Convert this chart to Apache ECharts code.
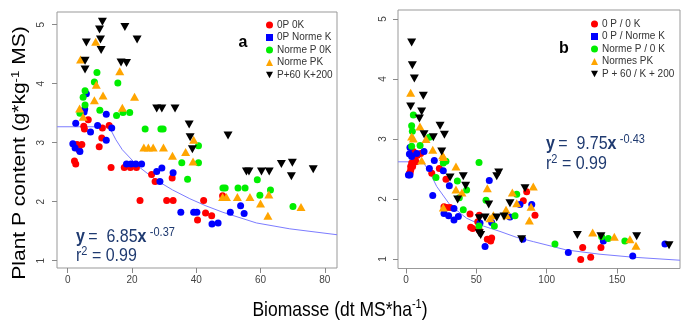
<!DOCTYPE html>
<html>
<head>
<meta charset="utf-8">
<script src="https://cdn.jsdelivr.net/npm/echarts@6/dist/echarts.min.js"></script>
<style>
html, body { margin: 0; padding: 0; background: #fff; }
#main { width: 686px; height: 327px; }
</style>
</head>
<body>
<div id="main"></div>
<script>
// tick labels
var ticksAx = [0, 20, 40, 60, 80];
var ticksBx = [0, 50, 100, 150];
var ticksY = [1, 2, 3, 4, 5];

// legend names
var namesA = ['0P 0K', '0P Norme K', 'Norme P 0K', 'Norme PK', 'P+60 K+200'];
var namesB = ['0 P / 0 K', '0 P / Norme K', 'Norme P / 0 K', 'Normes PK', 'P + 60 / K + 200'];

// panel a : [biomasse, P content]
var a0P0K = [[6.4,3.39],[5.0,3.28],[5.2,3.23],[10.8,3.25],[12.9,3.29],[10.6,3.08],[2.9,2.97],[4.4,2.97],[3.5,2.88],[9.8,2.93],[2.1,2.69],[2.5,2.64],[13.5,2.58],[17.6,2.58],[19.5,2.58],[21.4,2.58],[26.1,2.46],[27.2,2.34],[32.5,2.40],[22.5,2.02],[30.8,2.02],[32.8,2.02],[42.3,2.02],[40.4,1.69],[42.9,1.81],[44.8,1.76],[48.2,2.10]];
var a0PNK = [[5.8,3.83],[5.3,3.57],[5.1,3.52],[12.0,3.48],[2.5,3.33],[9.3,3.29],[13.7,3.25],[7.1,3.18],[12.0,3.04],[1.6,2.98],[2.3,2.91],[3.8,2.85],[18.3,2.64],[19.7,2.64],[21.2,2.64],[23.0,2.64],[29.3,2.57],[27.7,2.51],[28.7,2.34],[32.8,2.49],[35.2,1.82],[39.2,1.82],[40.2,1.82],[44.9,1.62],[46.8,1.64],[50.6,1.82],[53.8,1.93],[54.9,1.80]];
var aNP0K = [[9.1,4.19],[8.3,4.03],[15.6,4.01],[5.4,3.88],[4.8,3.77],[5.4,3.64],[10.0,3.55],[3.8,3.50],[15.2,3.46],[17.2,3.51],[19.3,3.51],[24.1,3.23],[29.0,3.23],[29.7,3.23],[35.5,2.66],[40.7,2.95],[40.7,2.66],[37.3,2.38],[48.3,2.23],[49.0,2.23],[53.0,2.23],[55.2,2.23],[59.0,2.37],[63.1,2.20],[59.8,2.11],[70.1,1.92]];
var aNPK = [[8.7,4.71],[4.0,4.41],[16.2,4.21],[8.9,3.98],[11.0,3.80],[8.3,3.72],[20.8,3.78],[3.7,3.58],[17.0,3.59],[4.8,3.44],[23.7,2.92],[25.1,2.92],[26.6,2.92],[29.8,2.92],[32.6,2.78],[36.7,2.84],[39.0,2.68],[39.2,3.05],[48.2,2.08],[49.4,2.08],[52.8,2.08],[56.7,2.08],[60.0,1.97],[62.6,2.12],[62.3,1.76],[72.6,1.91]];
var aP60K200 = [[10.8,5.05],[9.9,4.92],[17.8,4.96],[5.8,4.70],[10.2,4.75],[21.6,4.75],[10.4,4.57],[5.4,4.39],[16.6,4.36],[18.3,4.35],[5.4,4.24],[27.7,3.58],[29.3,3.58],[33.4,3.58],[37.8,3.31],[38.1,3.09],[38.8,2.89],[49.9,3.12],[55.6,2.51],[56.4,2.51],[60.3,2.51],[62.7,2.51],[66.5,2.64],[69.9,2.66],[69.6,2.43],[76.4,2.55]];
var aFit = [[-3.3,3.27],[12.9,3.27],[15,3.05],[17,2.88],[21.7,2.61],[27.4,2.37],[32.6,2.20],[38,2.05],[43,1.93],[48.3,1.82],[58.7,1.64],[69.1,1.54],[83.8,1.44]];

// panel b
var b0P0K = [[5.2,2.79],[3.3,2.54],[4.0,2.60],[2.8,2.43],[6.4,2.66],[7.1,2.62],[8.1,2.73],[4.7,2.54],[3.3,2.48],[2.4,2.43],[10.4,2.76],[18.3,2.43],[23.7,2.51],[28.4,2.33],[27.0,1.87],[28.9,1.86],[31.3,1.86],[45.5,1.75],[51.0,1.62],[46.0,1.53],[47.4,1.51],[57.8,1.33],[60.9,1.35],[60.2,1.30],[52.1,1.48],[52.1,1.73],[85.8,2.12],[83.4,1.97],[91.7,1.73],[125.6,1.19],[124.2,0.99],[131.3,1.03],[138.6,1.19]];
var b0PNK = [[2.8,2.86],[4.0,2.71],[2.8,2.40],[7.6,2.76],[2.4,2.75],[1.7,2.40],[12.8,2.79],[20.1,2.64],[16.6,2.51],[19.0,2.06],[26.5,2.47],[30.8,2.22],[34.1,1.84],[27.0,1.76],[30.3,1.72],[34.1,1.65],[37.2,1.71],[59.2,2.31],[52.6,1.60],[56.2,1.21],[60.9,1.61],[73.9,1.70],[89.4,1.91],[81.0,1.91],[83.0,1.33],[115.4,1.11],[140.3,1.30],[161.2,1.05],[184.1,1.25]];
var bNP0K = [[5.2,3.40],[4.0,3.22],[4.5,3.13],[4.0,2.88],[10.0,2.89],[16.6,3.03],[26.5,2.60],[28.4,2.63],[21.3,2.36],[36.5,2.30],[43.1,2.15],[51.9,2.61],[37.9,2.02],[40.7,1.82],[56.9,1.98],[62.8,1.55],[51.9,1.55],[77.5,1.72],[78.7,2.08],[105.9,1.25],[143.8,1.34],[155.6,1.30],[139.1,1.37]];
var bNPK = [[3.3,3.77],[4.0,3.04],[5.2,3.01],[9.9,3.21],[14.2,3.00],[11.1,2.64],[19.0,2.82],[26.1,2.73],[26.6,2.70],[35.5,2.54],[35.5,2.16],[39.8,2.11],[57.8,2.18],[26.5,1.86],[62.1,1.73],[71.6,1.73],[59.7,1.68],[71.1,1.82],[75.6,2.11],[87.7,1.64],[90.5,2.21],[78.7,1.93],[88.9,1.87],[132.7,1.44],[148.1,1.37],[159.2,1.33],[163.5,1.22]];
var bP60K200 = [[4.0,4.61],[4.5,4.23],[5.9,4.01],[3.3,3.54],[9.5,3.34],[12.3,3.72],[11.1,3.46],[24.2,3.22],[12.8,3.08],[19.4,3.03],[27.3,3.07],[25.4,2.79],[31.3,2.36],[40.7,2.38],[42.4,2.22],[36.7,1.99],[65.9,2.44],[64.5,2.38],[58.8,1.91],[52.1,1.68],[56.2,1.69],[52.1,1.43],[53.1,1.40],[64.5,1.69],[69.7,1.71],[73.9,1.93],[84.6,2.18],[82.2,1.33],[121.8,1.40],[138.6,1.38],[164.0,1.38],[187.0,1.23]];
var bFit = [[-5.7,2.62],[11.9,2.62],[16.6,2.46],[21.8,2.21],[31.3,1.90],[43.1,1.68],[55,1.55],[66.8,1.46],[78.7,1.36],[90.5,1.29],[114.2,1.15],[137.9,1.08],[161.6,1.03],[194.8,0.98]];

var ff = 'Liberation Sans, Arial, sans-serif';
var navy = '#1f3a70';
var colors = ['#ff0000', '#0000ff', '#00ee00', '#ffa500', '#000000'];
var symbols = ['circle', 'circle', 'circle', 'triangle', 'path://M0,0L10,0L5,9Z'];
var icons = ['circle', 'rect', 'circle', 'triangle', 'path://M0,0L10,0L5,9Z'];
var sizes = [7, 7, 7, [9, 8], [9, 8]];

function scatter(name, data, k, gi) {
    return {
        name: name, type: 'scatter', xAxisIndex: gi, yAxisIndex: gi,
        data: data, symbol: symbols[k], symbolSize: sizes[k],
        itemStyle: { color: colors[k], opacity: 1 },
        z: 3 + k
    };
}

function fitLine(name, data, gi) {
    return {
        name: name, type: 'line', xAxisIndex: gi, yAxisIndex: gi,
        data: data, showSymbol: false, smooth: false, z: 2,
        lineStyle: { color: '#7c7cff', width: 1 }
    };
}

function xAx(gi, min, max, ticks) {
    return {
        type: 'value', gridIndex: gi, min: min, max: max,
        splitLine: { show: false },
        axisLine: { show: false, onZero: false },
        axisTick: { show: true, length: 5, customValues: ticks, lineStyle: { color: '#888' } },
        axisLabel: { customValues: ticks, margin: 7, color: '#444', fontSize: 10, fontFamily: ff }
    };
}

function yAx(gi, min, max, margin) {
    return {
        type: 'value', gridIndex: gi, min: min, max: max,
        splitLine: { show: false },
        axisLine: { show: false, onZero: false },
        axisTick: { show: true, length: 5, customValues: ticksY, lineStyle: { color: '#888' } },
        axisLabel: { customValues: ticksY, rotate: 90, margin: margin, color: '#444', fontSize: 10, fontFamily: ff }
    };
}

function legend(names, left, top) {
    return {
        data: names.map(function (n, i) { return { name: n, icon: icons[i] }; }),
        orient: 'vertical', left: left, top: top,
        itemWidth: 7, itemHeight: 7, itemGap: 2.5, padding: 0,
        selectedMode: false,
        textStyle: { fontSize: 10, color: '#333', fontFamily: ff, padding: [0, 0, 0, -1] }
    };
}

var supRich = {
    n: { fontSize: 16, fontFamily: ff, color: navy, lineHeight: 18 },
    b: { fontSize: 16, fontFamily: ff, fontWeight: 'bold', color: navy, lineHeight: 18 },
    s: { fontSize: 11, fontFamily: ff, color: navy, lineHeight: 8, verticalAlign: 'top' }
};
var titleRich = {
    n: { fontSize: 17.5, fontFamily: ff, color: '#000', lineHeight: 20 },
    s: { fontSize: 11, fontFamily: ff, color: '#000', lineHeight: 9, verticalAlign: 'top' }
};

function eqText(x, y, txt) {
    return {
        type: 'text', x: x, y: y, scaleY: 1.15,
        style: { text: txt, rich: supRich, align: 'left', verticalAlign: 'middle', fill: navy }
    };
}

var myChart = echarts.init(document.getElementById('main'));
var option = {
    backgroundColor: '#fff',
    animation: false,
    grid: [
        { left: 57, top: 12, width: 280, height: 256, show: true, borderColor: '#999', borderWidth: 1, outerBoundsMode: 'none' },
        { left: 398, top: 10, width: 282, height: 258.5, show: true, borderColor: '#999', borderWidth: 1, outerBoundsMode: 'none' }
    ],
    xAxis: [xAx(0, -3.33, 83.8, ticksAx), xAx(1, -5.7, 194.8, ticksBx)],
    yAxis: [yAx(0, 0.876, 5.215, 11), yAx(1, 0.842, 5.15, 10)],
    legend: [legend(namesA, 266, 20), legend(namesB, 591, 19)],
    series: [
        fitLine('fit a', aFit, 0),
        scatter(namesA[0], a0P0K, 0, 0),
        scatter(namesA[1], a0PNK, 1, 0),
        scatter(namesA[2], aNP0K, 2, 0),
        scatter(namesA[3], aNPK, 3, 0),
        scatter(namesA[4], aP60K200, 4, 0),
        fitLine('fit b', bFit, 1),
        scatter(namesB[0], b0P0K, 0, 1),
        scatter(namesB[1], b0PNK, 1, 1),
        scatter(namesB[2], bNP0K, 2, 1),
        scatter(namesB[3], bNPK, 3, 1),
        scatter(namesB[4], bP60K200, 4, 1)
    ],
    graphic: [
        { type: 'text', x: 243, y: 43, style: { text: 'a', font: 'bold 16px ' + ff, fill: '#000', align: 'center', verticalAlign: 'middle' } },
        { type: 'text', x: 564, y: 49, style: { text: 'b', font: 'bold 16px ' + ff, fill: '#000', align: 'center', verticalAlign: 'middle' } },
        eqText(76, 237, '{b|y} {n|=  6.85}{b|x} {s|-0.37}'),
        eqText(76, 256, '{n|r}{s|2}{n| = 0.99}'),
        eqText(546, 144, '{b|y} {n|=  9.75}{b|x} {s|-0.43}'),
        eqText(546, 164, '{n|r}{s|2}{n| = 0.99}'),
        {
            type: 'text', x: 340, y: 310, scaleY: 1.2,
            style: { text: '{n|Biomasse (dt MS*ha}{s|-1}{n|)}', rich: titleRich, align: 'center', verticalAlign: 'middle', fill: '#000' }
        },
        {
            type: 'text', x: 20, y: 153, rotation: Math.PI / 2, scaleX: 1.2,
            style: { text: '{n|Plant P content (g*kg}{s|-1}{n| MS)}', rich: titleRich, align: 'center', verticalAlign: 'middle', fill: '#000' }
        }
    ]
};
myChart.setOption(option);
</script>
</body>
</html>
